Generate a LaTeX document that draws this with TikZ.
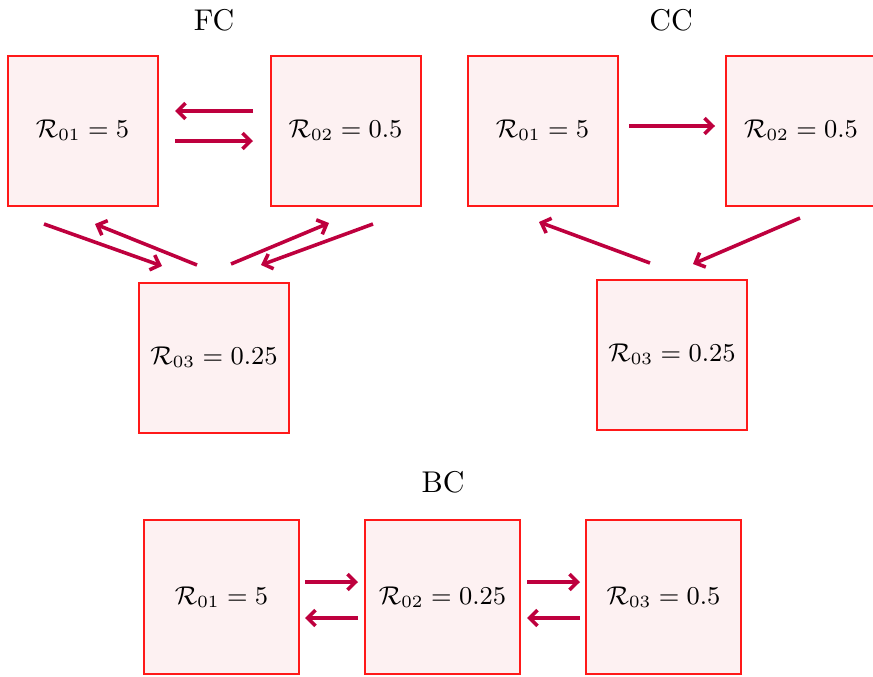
\documentclass[tikz,border=0pt]{standalone}
\usetikzlibrary{arrows.meta}
\definecolor{boxfill}{RGB}{253,241,242}
\definecolor{boxline}{RGB}{255,25,25}
\definecolor{arrowcol}{RGB}{190,0,62}
\begin{document}
\begin{tikzpicture}[x=0.35pt,y=-0.35pt,
  rbox/.style={draw=boxline,fill=boxfill,line width=0.7pt,minimum width=52.5pt,minimum height=52.5pt,inner sep=0pt,font=\fontsize{8.7}{10}\selectfont},
  rboxb/.style={rbox,minimum width=54pt,minimum height=54pt},
  flow/.style={draw=arrowcol,line width=1.25pt,-{Straight Barb[length=2.8pt,width=5.5pt]}},
  title/.style={inner sep=0pt,font=\fontsize{10.5}{12}\selectfont}]
\useasboundingbox (0,0) rectangle (873,676);
% titles
\node[title] (tfc) at (214,20) {FC};
\node[title] (tcc) at (671,20) {CC};
\node[title] (tbc) at (443,482) {BC};
% FC
\node[rbox] (f1) at (82.5,130.5) {$\mathcal{R}_{01}=5$};
\node[rbox] (f2) at (345.5,130.5) {$\mathcal{R}_{02}=0.5$};
\node[rbox] (f3) at (214,357.5) {$\mathcal{R}_{03}=0.25$};
% CC
\node[rbox] (c1) at (542.5,130.5) {$\mathcal{R}_{01}=5$};
\node[rbox] (c2) at (801,130.5) {$\mathcal{R}_{02}=0.5$};
\node[rbox] (c3) at (672,354.5) {$\mathcal{R}_{03}=0.25$};
% BC
\node[rboxb] (b1) at (221.5,597) {$\mathcal{R}_{01}=5$};
\node[rboxb] (b2) at (442.5,597) {$\mathcal{R}_{02}=0.25$};
\node[rboxb] (b3) at (663.5,597) {$\mathcal{R}_{03}=0.5$};
% FC arrow endpoints
\coordinate (fa1) at (253,111); \coordinate (fa2) at (175,111);
\coordinate (fb1) at (175,141); \coordinate (fb2) at (253,141);
\coordinate (fc1) at (44,224);  \coordinate (fc2) at (162,266);
\coordinate (fd1) at (197,265); \coordinate (fd2) at (95,224);
\coordinate (fe1) at (231,264); \coordinate (fe2) at (329,223);
\coordinate (ff1) at (373,224); \coordinate (ff2) at (261,265);
\draw[flow] (fa1) -- (fa2);
\draw[flow] (fb1) -- (fb2);
\draw[flow] (fc1) -- (fc2);
\draw[flow] (fd1) -- (fd2);
\draw[flow] (fe1) -- (fe2);
\draw[flow] (ff1) -- (ff2);
% CC arrow endpoints
\coordinate (ca1) at (629,126); \coordinate (ca2) at (715,126);
\coordinate (cb1) at (800,218); \coordinate (cb2) at (693,264);
\coordinate (cc1) at (650,263); \coordinate (cc2) at (539,222);
\draw[flow] (ca1) -- (ca2);
\draw[flow] (cb1) -- (cb2);
\draw[flow] (cc1) -- (cc2);
% BC arrow endpoints
\coordinate (ba1) at (305,582); \coordinate (ba2) at (358,582);
\coordinate (bb1) at (358,618); \coordinate (bb2) at (305,618);
\coordinate (bc1) at (527,582); \coordinate (bc2) at (580,582);
\coordinate (bd1) at (580,618); \coordinate (bd2) at (527,618);
\draw[flow] (ba1) -- (ba2);
\draw[flow] (bb1) -- (bb2);
\draw[flow] (bc1) -- (bc2);
\draw[flow] (bd1) -- (bd2);
\end{tikzpicture}
\end{document}
